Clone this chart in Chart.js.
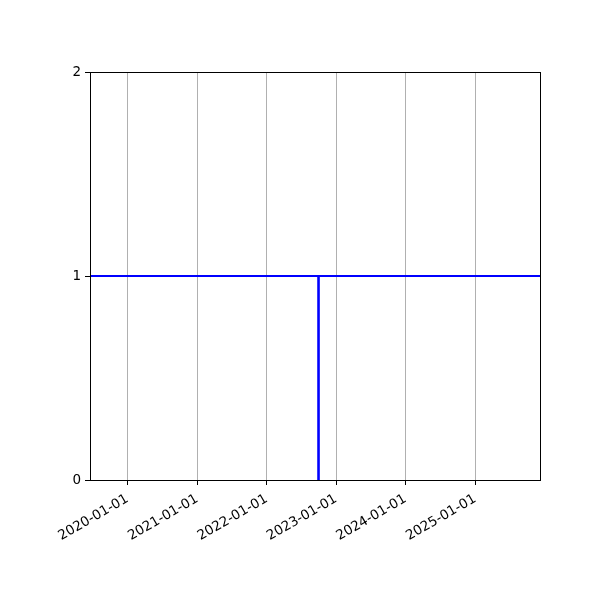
<!DOCTYPE html>
<html><head><meta charset="utf-8">
<script src="https://cdn.jsdelivr.net/npm/chart.js@4/dist/chart.umd.min.js"></script>
<style>html,body{margin:0;padding:0;background:#fff}#wrap{width:600px;height:600px}</style>
</head><body><div id="wrap"><canvas id="c" width="600" height="600"></canvas></div>
<script>
// Data
const xRangeDates = ['2019-06-18', '2025-12-08'];
const horizontalDates = ['2019-06-18', '2025-12-08'];
const horizontalValues = [1, 1];
const verticalDates = ['2022-10-01', '2022-10-01'];
const verticalValues = [0, 1];
const xTickDates = ['2020-01-01', '2021-01-01', '2022-01-01', '2023-01-01', '2024-01-01', '2025-01-01'];
const yTickValues = [0, 1, 2];

const toMs = s => Date.parse(s + 'T00:00:00Z');
const fmt = v => new Date(v).toISOString().slice(0, 10);

const frame = {
  id: 'frame',
  afterDatasetsDraw(chart) {
    const {ctx, chartArea: a} = chart;
    ctx.save();
    ctx.strokeStyle = '#000';
    ctx.lineWidth = 1;
    ctx.strokeRect(Math.round(a.left) + 0.5, Math.round(a.top) + 0.5, Math.round(a.right - a.left), Math.round(a.bottom - a.top));
    ctx.restore();
  }
};

new Chart(document.getElementById('c'), {
  type: 'line',
  data: {
    datasets: [
      {
        data: horizontalDates.map((d, i) => ({x: toMs(d), y: horizontalValues[i]})),
        borderColor: '#0000ff', borderWidth: 2, pointRadius: 0, fill: false, tension: 0
      },
      {
        data: verticalDates.map((d, i) => ({x: toMs(d), y: verticalValues[i]})),
        borderColor: '#0000ff', borderWidth: 2.6, pointRadius: 0, fill: false, tension: 0
      }
    ]
  },
  options: {
    responsive: false,
    animation: false,
    devicePixelRatio: 1,
    layout: {padding: {left: 0, top: 72, right: 60, bottom: 0}},
    plugins: {legend: {display: false}, tooltip: {enabled: false}},
    scales: {
      x: {
        type: 'linear',
        min: toMs(xRangeDates[0]),
        max: toMs(xRangeDates[1]),
        afterBuildTicks: s => { s.ticks = xTickDates.map(d => ({value: toMs(d)})); },
        afterFit: s => { s.height = 120; },
        ticks: {
          callback: v => fmt(v),
          minRotation: 30, maxRotation: 30, autoSkip: false,
          color: '#000', font: {family: 'DejaVu Sans', size: 13.5}, padding: 6
        },
        grid: {color: '#b0b0b0', lineWidth: 1, tickColor: '#000', tickLength: 5, drawOnChartArea: true},
        border: {color: '#000', width: 1}
      },
      y: {
        type: 'linear',
        min: 0, max: 2,
        afterBuildTicks: s => { s.ticks = yTickValues.map(v => ({value: v})); },
        afterFit: s => { s.width = 90; },
        ticks: {color: '#000', font: {family: 'DejaVu Sans', size: 13.5}, padding: 4, callback: v => String(v)},
        grid: {drawOnChartArea: false, tickColor: '#000', tickLength: 5},
        border: {color: '#000', width: 1}
      }
    }
  },
  plugins: [frame]
});
</script></body></html>
